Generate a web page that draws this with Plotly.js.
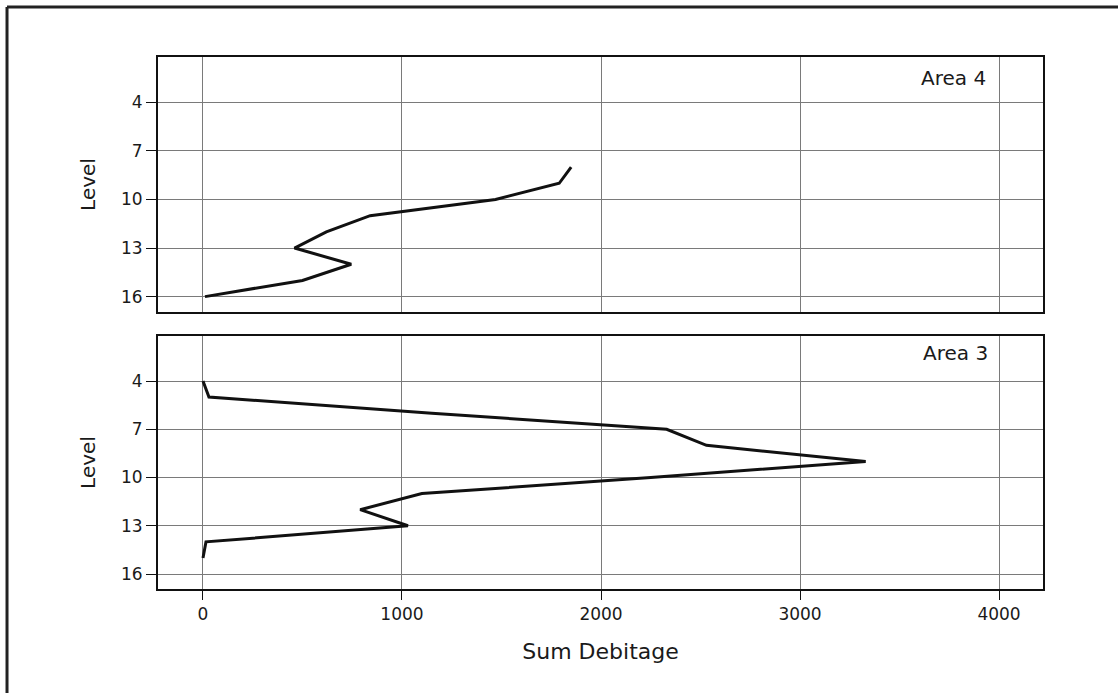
<!DOCTYPE html>
<html>
<head>
<meta charset="utf-8">
<script src="https://cdn.plot.ly/plotly-3.0.1.min.js"></script>
<style>html,body{margin:0;padding:0;background:#fff;}#chart{width:1118px;height:693px;}</style>
</head>
<body>
<div id="chart"></div>
<script>
// Data
const levelsArea4 = [8, 9, 10, 11, 12, 13, 14, 15, 16];
const debitageArea4 = [1850, 1790, 1470, 840, 620, 460, 745, 500, 10];

const levelsArea3 = [4, 5, 6, 7, 8, 9, 10, 11, 12, 13, 14, 15];
const debitageArea3 = [0, 30, 1150, 2330, 2530, 3330, 2250, 1100, 790, 1030, 15, 0];

const xTicks = [0, 1000, 2000, 3000, 4000];
const yTicks = [4, 7, 10, 13, 16];
const panelLabels = ["Area 4", "Area 3"];

const FONT = "DejaVu Sans, Liberation Sans, sans-serif";
const TXT = "#1a1a1a";

const traces = [
  {x: debitageArea4, y: levelsArea4, xaxis: "x2", yaxis: "y2", type: "scatter", mode: "lines",
   line: {color: "#111", width: 3}, hoverinfo: "x+y"},
  {x: debitageArea3, y: levelsArea3, xaxis: "x", yaxis: "y", type: "scatter", mode: "lines",
   line: {color: "#111", width: 3}, hoverinfo: "x+y"}
];

const commonX = {
  range: [-226, 4221], tickvals: xTicks, showgrid: true, gridcolor: "#7a7a7a", gridwidth: 1,
  showline: true, linecolor: "#111", linewidth: 2, mirror: true, zeroline: false,
  tickfont: {family: FONT, size: 17, color: TXT}
};
const commonY = {
  autorange: false, tickvals: yTicks, showgrid: true, gridcolor: "#7a7a7a", gridwidth: 1,
  showline: true, linecolor: "#111", linewidth: 2, mirror: true, zeroline: false,
  ticks: "outside", ticklen: 10, tickwidth: 1, tickcolor: "#111",
  tickfont: {family: FONT, size: 17, color: TXT},
  title: {text: "Level", font: {family: FONT, size: 20, color: TXT}, standoff: 20}
};

const layout = {
  width: 1118, height: 693,
  margin: {l: 158, r: 75, t: 57, b: 104},
  paper_bgcolor: "#fff", plot_bgcolor: "#fff",
  showlegend: false,
  font: {family: FONT, color: TXT},
  xaxis: Object.assign({}, commonX, {
    anchor: "y", domain: [0, 1], ticks: "outside", ticklen: 9, tickwidth: 1, tickcolor: "#111",
    title: {text: "Sum Debitage", font: {family: FONT, size: 22, color: TXT}, standoff: 20}
  }),
  xaxis2: Object.assign({}, commonX, {
    anchor: "y2", domain: [0, 1], showticklabels: false, ticks: ""
  }),
  yaxis: Object.assign({}, commonY, {anchor: "x", domain: [0, 0.4756], range: [16.93, 1.2]}),
  yaxis2: Object.assign({}, commonY, {anchor: "x2", domain: [0.5207, 1], range: [16.95, 1.2]}),
  annotations: [
    {text: panelLabels[0], xref: "paper", yref: "paper", x: 0.938, y: 0.9605,
     xanchor: "right", yanchor: "middle", showarrow: false,
     font: {family: FONT, size: 20, color: TXT}},
    {text: panelLabels[1], xref: "paper", yref: "paper", x: 0.940, y: 0.4436,
     xanchor: "right", yanchor: "middle", showarrow: false,
     font: {family: FONT, size: 20, color: TXT}}
  ],
  shapes: [
    {type: "line", xref: "paper", yref: "paper", x0: -0.1706, x1: -0.1706, y0: -0.2, y1: 1.094,
     line: {color: "#222", width: 3}},
    {type: "line", xref: "paper", yref: "paper", x0: -0.1706, x1: 1.09, y0: 1.094, y1: 1.094,
     line: {color: "#222", width: 3}}
  ]
};

Plotly.newPlot("chart", traces, layout, {displayModeBar: false, staticPlot: true});
</script>
</body>
</html>
